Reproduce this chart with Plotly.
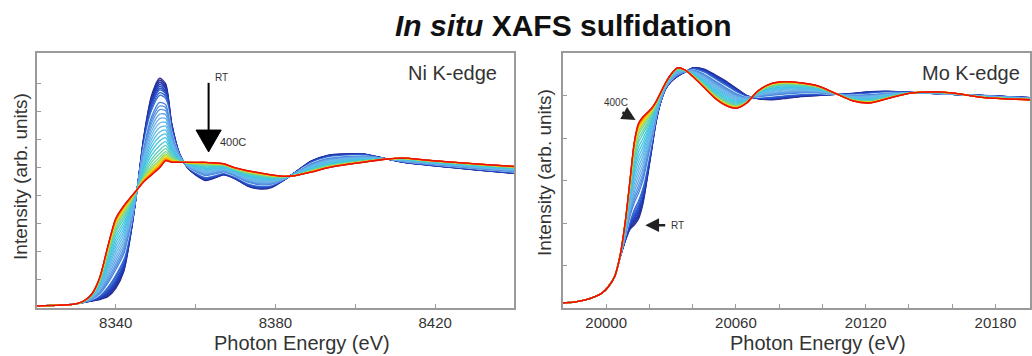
import plotly.graph_objects as go
from plotly.colors import sample_colorscale

# ---------------- data ----------------
ni_energy = [8320, 8326, 8330, 8332, 8334, 8336, 8338, 8340, 8342, 8344, 8345.5, 8347, 8349,
             8351, 8352.5, 8354, 8356, 8358, 8360, 8362.5, 8365, 8367, 8370, 8373, 8376, 8379,
             8382, 8385, 8389, 8393, 8397, 8402, 8407, 8412, 8418, 8425, 8432, 8440]
ni_rt = [0.015, 0.02, 0.03, 0.04, 0.05, 0.06, 0.08, 0.14, 0.26, 0.57, 0.88, 1.22, 1.52,
         1.64, 1.60, 1.32, 1.10, 1.00, 0.95, 0.91, 0.93, 0.95, 0.92, 0.87, 0.85, 0.86,
         0.91, 0.97, 1.05, 1.09, 1.10, 1.10, 1.07, 1.04, 1.02, 1.00, 0.98, 0.96]
ni_400c = [0.015, 0.02, 0.03, 0.05, 0.10, 0.22, 0.44, 0.64, 0.73, 0.80, 0.85, 0.90, 0.95,
           1.00, 1.05, 1.04, 1.04, 1.04, 1.04, 1.04, 1.035, 1.03, 1.00, 0.98, 0.965, 0.95,
           0.94, 0.945, 0.97, 1.00, 1.02, 1.04, 1.06, 1.07, 1.055, 1.04, 1.025, 1.01]

mo_energy = [19978, 19985, 19990, 19994, 19998, 20001, 20004, 20006.5, 20009, 20011, 20013,
             20015, 20017, 20019, 20021, 20023, 20025, 20027.5, 20030, 20033, 20036.5, 20040,
             20045, 20050, 20055, 20060, 20065, 20070, 20076, 20082, 20090, 20098, 20106,
             20114, 20122, 20130, 20140, 20150, 20160, 20175, 20196]
mo_rt = [0.023, 0.028, 0.037, 0.05, 0.07, 0.10, 0.15, 0.24, 0.32, 0.37, 0.39,
         0.42, 0.49, 0.61, 0.74, 0.87, 0.96, 1.03, 1.065, 1.09, 1.11, 1.13,
         1.125, 1.10, 1.07, 1.035, 1.00, 0.985, 0.98, 0.985, 0.995, 1.00, 1.005,
         1.01, 1.018, 1.02, 1.015, 1.01, 1.005, 1.00, 0.99]
mo_400c = [0.023, 0.028, 0.037, 0.05, 0.07, 0.10, 0.15, 0.25, 0.42, 0.60, 0.78,
           0.87, 0.90, 0.92, 0.94, 0.97, 1.01, 1.06, 1.10, 1.13, 1.12, 1.09,
           1.04, 0.99, 0.955, 0.94, 0.965, 1.02, 1.055, 1.065, 1.06, 1.045, 1.01,
           0.975, 0.965, 0.985, 1.01, 1.017, 1.012, 0.99, 0.98]

# share of the 400C spectrum in each scan, RT -> 400C, read from peak heights
scan_fraction = [0.0, 0.02, 0.04, 0.05, 0.07, 0.09, 0.11, 0.13, 0.16, 0.19, 0.23, 0.27,
                 0.31, 0.35, 0.40, 0.45, 0.50, 0.55, 0.60, 0.65, 0.70, 0.75, 0.80, 0.84,
                 0.88, 0.91, 0.93, 0.95, 0.96, 0.97, 0.98, 0.985, 0.99, 0.995, 1.0]
white_scan = 10

ni_xticks = [8340, 8360, 8380, 8400, 8420]
ni_xlabels = ["8340", "", "8380", "", "8420"]
mo_xticks = [20000, 20020, 20040, 20060, 20080, 20100, 20120, 20140, 20160, 20180]
mo_xlabels = ["20000", "", "", "20060", "", "", "20120", "", "", "20180"]
ni_yticks = [0.2, 0.4, 0.6, 0.8, 1.0, 1.2, 1.4, 1.6]
mo_yticks = [0.2, 0.4, 0.6, 0.8, 1.0]

scale = [[0.0, "#2a2a8c"], [0.15, "#2040c0"], [0.3, "#3c78d8"], [0.45, "#70b4ea"],
         [0.6, "#3cc6e2"], [0.72, "#80d880"], [0.8, "#f2df00"], [0.9, "#ff8c00"],
         [1.0, "#e8100c"]]

TXT = "#333333"
FONT = "Liberation Sans, Arial, sans-serif"

fig = go.Figure()
n = len(scan_fraction)
cols = sample_colorscale(scale, [i / (n - 1) for i in range(n)])

for energy, rt, ht, xa, ya in [(ni_energy, ni_rt, ni_400c, "x", "y"),
                                (mo_energy, mo_rt, mo_400c, "x2", "y2")]:
    for i, f in enumerate(scan_fraction):
        yv = [(1 - f) * a + f * b for a, b in zip(rt, ht)]
        c = "#eef7ff" if i == white_scan else cols[i]
        fig.add_trace(go.Scatter(x=energy, y=yv, mode="lines", xaxis=xa, yaxis=ya,
                                 line=dict(color=c, width=1.3, shape="spline", smoothing=0.7),
                                 showlegend=False, hoverinfo="skip"))

ydom = [1 - 308 / 356, 1 - 53 / 356]
common_ax = dict(showline=True, mirror=True, linecolor="#9a9a9a", linewidth=1.5,
                 ticks="inside", ticklen=4, tickcolor="#9a9a9a", showgrid=False,
                 zeroline=False, tickfont=dict(size=15, color=TXT, family=FONT))

fig.update_layout(
    width=1032, height=356, autosize=False,
    margin=dict(l=0, r=0, t=0, b=0),
    paper_bgcolor="white", plot_bgcolor="white",
    font=dict(family=FONT, color=TXT),
    xaxis=dict(domain=[37 / 1032, 515 / 1032], range=[8320.25, 8439.75], anchor="y",
               tickmode="array", tickvals=ni_xticks, ticktext=ni_xlabels, **common_ax),
    yaxis=dict(domain=ydom, range=[0, 1.82], anchor="x", tickmode="array",
               tickvals=ni_yticks, showticklabels=False, **common_ax),
    xaxis2=dict(domain=[564 / 1032, 1.0], range=[19980, 20196], anchor="y2",
                tickmode="array", tickvals=mo_xticks, ticktext=mo_xlabels, **common_ax),
    yaxis2=dict(domain=ydom, range=[0, 1.2], anchor="x2", tickmode="array",
                tickvals=mo_yticks, showticklabels=False, **common_ax),
)

# Ni big arrow
fig.add_shape(type="line", xref="x", yref="y", x0=8363.25, x1=8363.25, y0=1.607, y1=1.26,
              line=dict(color="black", width=2))
fig.add_shape(type="path", xref="x", yref="y",
              path="M 8360.1 1.27 L 8366.4 1.27 L 8363.25 1.114 Z",
              fillcolor="black", line=dict(color="black", width=1))


def ptext(x, y, text, size, color=TXT, angle=0, xanchor="center"):
    return dict(x=x / 1032, y=1 - y / 356, xref="paper", yref="paper", showarrow=False,
                xanchor=xanchor, yanchor="middle", textangle=angle, text=text,
                font=dict(size=size, color=color, family=FONT))


ann = []
ann.append(ptext(565, 25, "<b><i>In situ</i> XAFS sulfidation</b>", 30, "#111111"))
ann.append(ptext(500, 73, "Ni K-edge", 20, xanchor="right"))
ann.append(ptext(1024, 73, "Mo K-edge", 20, xanchor="right"))
ann.append(ptext(303, 343, "Photon Energy (eV)", 20))
ann.append(ptext(820, 343, "Photon Energy (eV)", 20))
ann.append(ptext(20, 176, "Intensity (arb. units)", 19, angle=-90))
ann.append(ptext(545, 172, "Intensity (arb. units)", 19, angle=-90))

ann.append(dict(x=8364.25, y=1.643, xref="x", yref="y", xanchor="left", yanchor="middle",
                showarrow=False, text="RT", font=dict(size=10, color=TXT, family=FONT)))
ann.append(dict(x=8365.6, y=1.186, xref="x", yref="y", xanchor="left", yanchor="middle",
                showarrow=False, text="400C", font=dict(size=11, color=TXT, family=FONT)))
# Mo arrows
ann.append(dict(x=20013.6, y=0.885, ax=20006.8, ay=0.925, xref="x2", yref="y2",
                axref="x2", ayref="y2", showarrow=True, arrowhead=2, arrowsize=1.1,
                arrowwidth=2.5, arrowcolor="#222222", text=""))
ann.append(dict(x=20004.7, y=0.967, xref="x2", yref="y2", xanchor="center", yanchor="middle",
                showarrow=False, text="400C", font=dict(size=10, color=TXT, family=FONT)))
ann.append(dict(x=20018.1, y=0.39, ax=20028.0, ay=0.39, xref="x2", yref="y2",
                axref="x2", ayref="y2", showarrow=True, arrowhead=2, arrowsize=1.1,
                arrowwidth=2.5, arrowcolor="#222222", text=""))
ann.append(dict(x=20029.2, y=0.39, xref="x2", yref="y2", xanchor="left", yanchor="middle",
                showarrow=False, text="RT", font=dict(size=10, color=TXT, family=FONT)))
fig.update_layout(annotations=ann)

fig.write_html("out.html", config={"displayModeBar": False},
               post_script="document.body.style.margin='0';")
